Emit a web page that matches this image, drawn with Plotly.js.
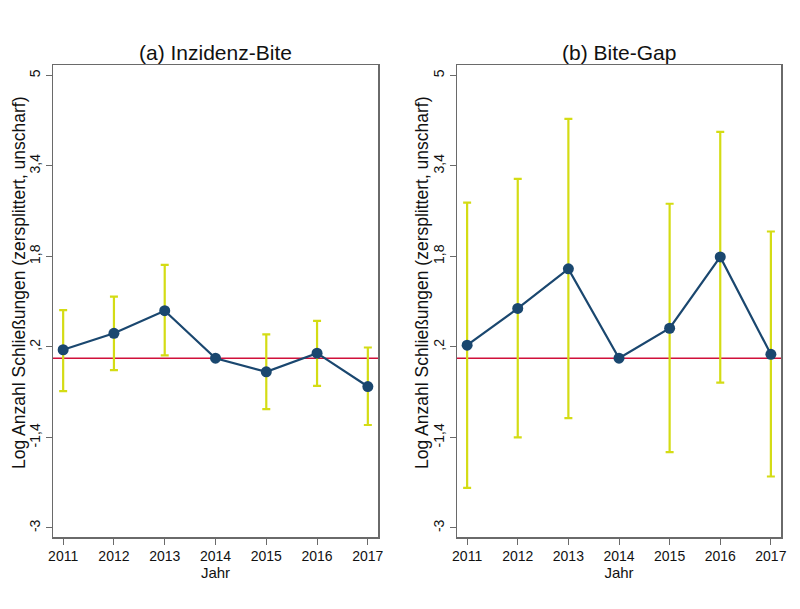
<!DOCTYPE html>
<html>
<head>
<meta charset="utf-8">
<script src="https://cdn.plot.ly/plotly-3.0.1.min.js"></script>
<style>html,body{margin:0;padding:0;background:#fff;}#chart{width:800px;height:609px;}</style>
</head>
<body>
<div id="chart"></div>
<script>
const years = [2011, 2012, 2013, 2014, 2015, 2016, 2017];

// Panel (a) Inzidenz-Bite
const aCoef  = [0.15, 0.44, 0.84, 0.00, -0.24, 0.09, -0.50];
const aLower = [-0.58, -0.21, 0.05, null, -0.90, -0.49, -1.18];
const aUpper = [0.85, 1.09, 1.65, null, 0.42, 0.66, 0.19];

// Panel (b) Bite-Gap
const bCoef  = [0.23, 0.88, 1.58, 0.00, 0.53, 1.79, 0.07];
const bLower = [-2.29, -1.40, -1.06, null, -1.66, -0.43, -2.09];
const bUpper = [2.75, 3.17, 4.23, null, 2.73, 4.00, 2.24];

const yTickVals = [-3, -1.4, 0.2, 1.8, 3.4, 5];
const yTickText = ["-3", "-1,4", ",2", "1,8", "3,4", "5"];
const panelTitles = ["(a) Inzidenz-Bite", "(b) Bite-Gap"];
const yTitle = "Log Anzahl Schließungen (zersplittert, unscharf)";
const xTitle = "Jahr";
const refLine = 0;

const navy = "#1a476f";
const ciColor = "#d4dc14";
const red = "#d0103a";
const frame = "#6a6a6a";
const font = "Liberation Sans, Arial, sans-serif";

function ciTrace(coef, lo, hi, xa, ya) {
  return {
    x: years, y: coef, xaxis: xa, yaxis: ya, type: "scatter", mode: "none",
    showlegend: false, hoverinfo: "skip",
    error_y: {
      type: "data", symmetric: false,
      array: hi.map((h, i) => h === null ? 0 : h - coef[i]),
      arrayminus: lo.map((l, i) => l === null ? 0 : coef[i] - l),
      color: ciColor, thickness: 2.2, width: 4,
      visible: true
    }
  };
}
function ptTrace(coef, xa, ya) {
  return {
    x: years, y: coef, xaxis: xa, yaxis: ya, type: "scatter", mode: "lines+markers",
    showlegend: false,
    line: {color: navy, width: 2.2},
    marker: {color: navy, size: 11}
  };
}
function refTrace(xa, ya) {
  return {
    x: [2010.8, 2017.2], y: [refLine, refLine], xaxis: xa, yaxis: ya, type: "scatter",
    mode: "lines", showlegend: false, hoverinfo: "skip",
    line: {color: red, width: 1.5}
  };
}

const data = [
  refTrace("x", "y"), ciTrace(aCoef, aLower, aUpper, "x", "y"), ptTrace(aCoef, "x", "y"),
  refTrace("x2", "y2"), ciTrace(bCoef, bLower, bUpper, "x2", "y2"), ptTrace(bCoef, "x2", "y2")
];

function xAxis(domain, anchor) {
  return {
    domain: domain, anchor: anchor, range: [2010.8, 2017.2],
    tickvals: years, ticktext: years.map(String),
    showgrid: false, zeroline: false,
    showline: true, mirror: true, linecolor: frame, linewidth: 1.5,
    ticks: "outside", ticklen: 6, tickcolor: frame, tickwidth: 1,
    tickfont: {family: font, size: 14, color: "#111"},
    title: {text: xTitle, font: {family: font, size: 15, color: "#111"}, standoff: 0}
  };
}
function yAxis(anchor) {
  return {
    domain: [0.1182, 0.893], anchor: anchor, range: [-3.16, 5.18],
    tickvals: yTickVals, ticktext: yTickText, tickangle: -90,
    showgrid: false, zeroline: false,
    showline: true, mirror: true, linecolor: frame, linewidth: 1.5,
    ticks: "outside", ticklen: 6, tickcolor: frame, tickwidth: 1,
    tickfont: {family: font, size: 14, color: "#111"}
  };
}

function yTitleAnn(xpx) {
  return {text: yTitle, xref: "paper", yref: "paper", x: xpx / 800, y: 1 - 283 / 609,
          textangle: -90, showarrow: false, xanchor: "center", yanchor: "middle",
          font: {family: font, size: 17.5, color: "#111"}};
}

const layout = {
  width: 800, height: 609,
  margin: {l: 0, r: 0, t: 0, b: 0},
  paper_bgcolor: "#fff", plot_bgcolor: "#fff",
  font: {family: font},
  xaxis: xAxis([0.06625, 0.4725], "y"),
  yaxis: yAxis("x"),
  xaxis2: xAxis([0.57125, 0.97625], "y2"),
  yaxis2: yAxis("x2"),
  annotations: [
    {text: panelTitles[0], xref: "paper", yref: "paper", x: 0.269, y: 0.913, showarrow: false,
     xanchor: "center", yanchor: "middle", font: {family: font, size: 21, color: "#111"}},
    {text: panelTitles[1], xref: "paper", yref: "paper", x: 0.774, y: 0.913, showarrow: false,
     xanchor: "center", yanchor: "middle", font: {family: font, size: 21, color: "#111"}},
    yTitleAnn(19), yTitleAnn(422)
  ]
};

Plotly.newPlot("chart", data, layout, {displayModeBar: false, staticPlot: true});
</script>
</body>
</html>
